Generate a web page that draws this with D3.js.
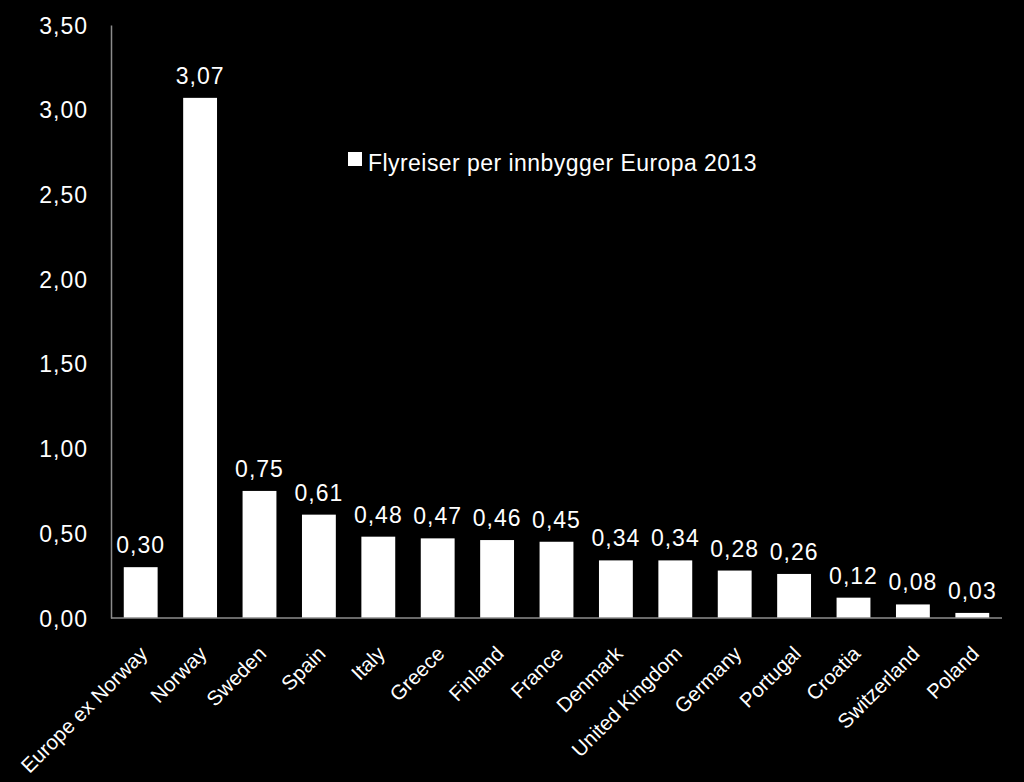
<!DOCTYPE html>
<html><head><meta charset="utf-8">
<script src="https://cdn.jsdelivr.net/npm/d3@7"></script>
<style>
html,body{margin:0;padding:0;background:#000;}
svg text{font-family:"Liberation Sans Narrow","Arial Narrow","Liberation Sans",Arial,sans-serif;fill:#fff;}
</style></head>
<body>
<svg id="chart" width="1024" height="782"></svg>
<script>
const categories = ["Europe ex Norway","Norway","Sweden","Spain","Italy","Greece","Finland","France","Denmark","United Kingdom","Germany","Portugal","Croatia","Switzerland","Poland"];
const values = [0.30,3.07,0.75,0.61,0.48,0.47,0.46,0.45,0.34,0.34,0.28,0.26,0.12,0.08,0.03];
const yTicks = [0,0.5,1,1.5,2,2.5,3,3.5];
const seriesName = "Flyreiser per innbygger Europa 2013";

(function(){
const svg = d3.select("#chart");
svg.append("rect").attr("width",1024).attr("height",782).attr("fill","#000");
const mLeft = 111, mRight = 1002, mTop = 25, mBottom = 618;
const fmt = v => d3.format(".2f")(v).replace(".", ",");

const x = d3.scaleBand().domain(categories).range([mLeft,mRight]).paddingInner(0.43).paddingOuter(0.215);
const y = d3.scaleLinear().domain([0,3.5]).range([mBottom,mTop]);

// y axis
const yAxis = svg.append("g").attr("transform",`translate(${mLeft},0)`)
  .call(d3.axisLeft(y).tickValues(yTicks).tickFormat(fmt).tickSize(0).tickPadding(23));
yAxis.select(".domain").attr("stroke","#8c8c8c").attr("stroke-width",1.5);
yAxis.selectAll("text").attr("font-size",23).attr("fill","#fff").attr("dy","0.35em")
  .attr("letter-spacing","1px");

// bars
svg.append("g").selectAll("rect").data(values).join("rect")
  .attr("x",(d,i)=>x(categories[i]))
  .attr("y",d=>y(d))
  .attr("width",x.bandwidth())
  .attr("height",d=>mBottom-y(d))
  .attr("fill","#fff");

// value labels
svg.append("g").selectAll("text").data(values).join("text")
  .attr("x",(d,i)=>x(categories[i])+x.bandwidth()/2)
  .attr("y",d=>y(d)-14)
  .attr("text-anchor","middle")
  .attr("font-size",23)
  .attr("letter-spacing","1px")
  .text(fmt);

// x axis
const xAxis = svg.append("g").attr("transform",`translate(0,${mBottom})`)
  .call(d3.axisBottom(x).tickSize(0).tickSizeOuter(0).tickPadding(0));
xAxis.select(".domain").attr("stroke","#8c8c8c").attr("stroke-width",1.5)
  .attr("d",`M${mLeft},0H${mRight}`);
xAxis.selectAll("text").attr("font-size",20.5).attr("fill","#fff")
  .attr("text-anchor","end").attr("dy",null).attr("y",0)
  .attr("transform","translate(8,37) rotate(-45)");

// legend
const lg = svg.append("g").attr("transform","translate(348,152)");
lg.append("rect").attr("width",14).attr("height",14).attr("fill","#fff");
lg.append("text").attr("x",20).attr("y",19).attr("font-size",23).attr("letter-spacing","0.45px").text(seriesName);
})();
</script>
</body></html>
